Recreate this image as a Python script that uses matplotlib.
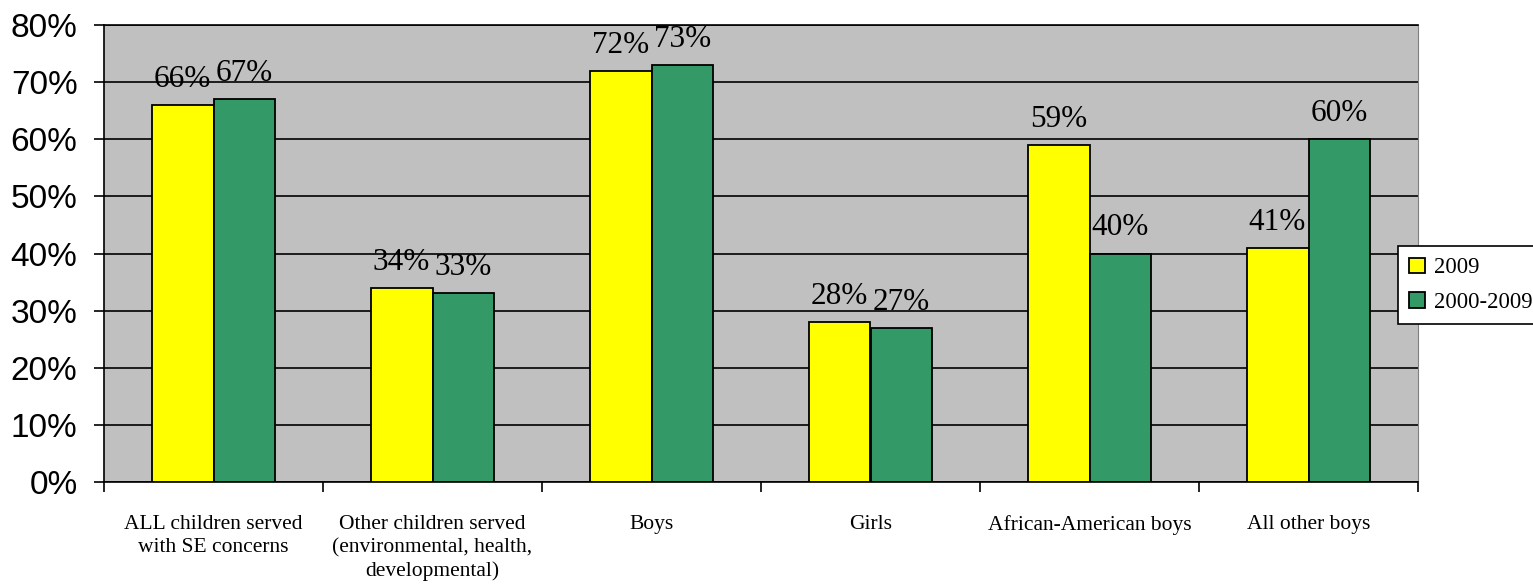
import matplotlib
matplotlib.use("Agg")
import matplotlib.pyplot as plt
import numpy as np

categories = ["ALL children served\nwith SE concerns",
              "Other children served\n(environmental, health,\ndevelopmental)",
              "Boys", "Girls", "African-American boys", "All other boys"]
series_2009 = [66, 34, 72, 28, 59, 41]
series_2000_2009 = [67, 33, 73, 27, 40, 60]
series_names = ["2009", "2000-2009"]
y_ticks = [0, 10, 20, 30, 40, 50, 60, 70, 80]

fig = plt.figure(figsize=(15.33, 5.84), dpi=100)
ax = fig.add_axes([104/1533, 1-482/584, (1418-104)/1533, (482-25)/584])
ax.set_facecolor("#C0C0C0")

x = np.arange(len(categories))
w = 0.283
b1 = ax.bar(x - w/2, series_2009, w, color="#FFFF00", edgecolor="black", linewidth=1.3, label=series_names[0], zorder=3)
b2 = ax.bar(x + w/2, series_2000_2009, w, color="#339966", edgecolor="black", linewidth=1.3, label=series_names[1], zorder=3)

for bars, vals in ((b1, series_2009), (b2, series_2000_2009)):
    for r, v in zip(bars, vals):
        ax.annotate(f"{v}%", (r.get_x() + r.get_width()/2, v), xytext=(0, 8),
                    textcoords="offset points", ha="center", va="bottom",
                    fontsize=22.5, family="Liberation Serif", zorder=4)

ax.set_xlim(-0.5, len(categories) - 0.5)
ax.set_ylim(0, 80)
ax.set_yticks(y_ticks)
ax.set_yticklabels([f"{t}%" for t in y_ticks], fontsize=24, family="Liberation Sans")
ax.yaxis.grid(True, color="black", linewidth=1.2, zorder=1)
ax.set_axisbelow(True)
ax.tick_params(axis="y", direction="out", length=7, width=1.2, pad=12)

ax.set_xticks(x)
ax.set_xticklabels(categories, fontsize=15.5, family="Liberation Serif", linespacing=1.25)
ax.tick_params(axis="x", which="major", length=0, pad=24)
ax.set_xticks(np.arange(-0.5, len(categories)), minor=True)
ax.tick_params(axis="x", which="minor", direction="out", length=7, width=1.2)

for s in ("left", "bottom", "top"):
    ax.spines[s].set_color("black")
    ax.spines[s].set_linewidth(1.2)
ax.spines["right"].set_color("#808080")

leg = fig.legend(handles=[b1, b2], labels=series_names, loc="upper left",
                 bbox_to_anchor=(1398/1533, 1-246/584), frameon=True, fancybox=False,
                 edgecolor="black", framealpha=1, prop={"family": "Liberation Serif", "size": 16.3},
                 handlelength=0.68, handleheight=0.68, handletextpad=0.4, borderpad=0.5,
                 labelspacing=0.6, borderaxespad=0)
leg.get_frame().set_linewidth(1.2)

fig.savefig("out.png", dpi=100)
